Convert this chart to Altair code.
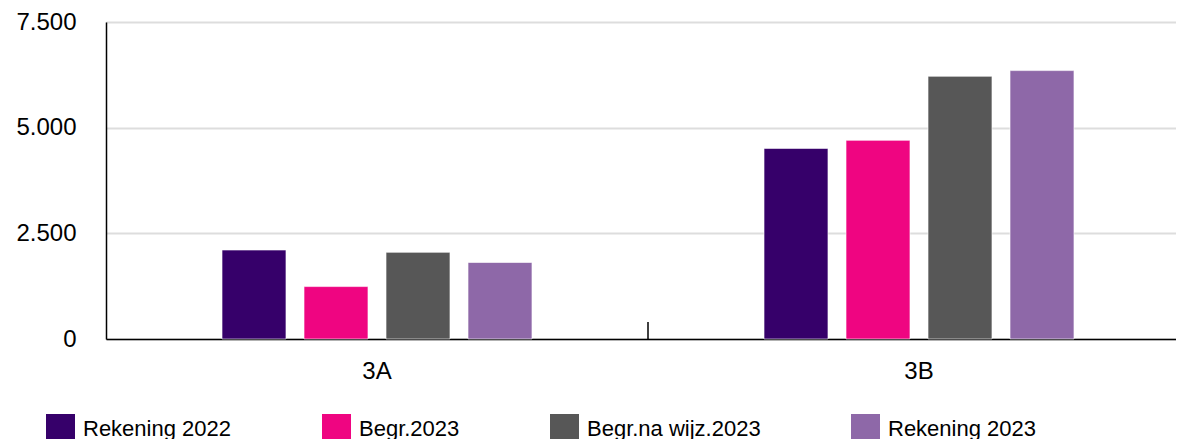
import altair as alt
import pandas as pd

categories = ["3A", "3B"]
series = ["Rekening 2022", "Begr.2023", "Begr.na wijz.2023", "Rekening 2023"]
colors = ["#36006A", "#EF0581", "#575757", "#8E68A8"]
values_3A = [2105, 1240, 2050, 1810]
values_3B = [4510, 4700, 6215, 6350]
y_ticks = [0, 2500, 5000, 7500]

rows = []
for s, v in zip(series, values_3A):
    rows.append({"cat": "3A", "serie": s, "val": v})
for s, v in zip(series, values_3B):
    rows.append({"cat": "3B", "serie": s, "val": v})
df = pd.DataFrame(rows)

tick_df = pd.DataFrame([{"cat": "3B", "y0": 0, "y1": 400}])

FONT = "Liberation Sans"

x_scale = alt.Scale(domain=categories, paddingInner=0, paddingOuter=0, range=[0, 1084])

bars = alt.Chart(df).mark_bar(stroke="#ffffff", strokeOpacity=0.6, strokeWidth=1).encode(
    x=alt.X("cat:N", scale=x_scale, sort=categories,
            axis=alt.Axis(title=None, labelAngle=0, ticks=False, domainColor="#000000",
                          domainWidth=1.5, labelFontSize=24, labelFont=FONT,
                          labelColor="#000000", labelPadding=20, grid=False)),
    xOffset=alt.XOffset("serie:N", sort=series,
                        scale=alt.Scale(domain=series, range=[107, 435],
                                        paddingInner=0.22, paddingOuter=0.11)),
    y=alt.Y("val:Q", scale=alt.Scale(domain=[0, 7500], nice=False),
            axis=alt.Axis(title=None, values=y_ticks, ticks=False, domainColor="#000000",
                          domainWidth=1.5, gridColor="#DDDDDD", gridWidth=2,
                          labelFontSize=24, labelFont=FONT, labelColor="#000000",
                          labelPadding=30,
                          labelExpr="replace(format(datum.value, ','), ',', '.')")),
    color=alt.Color("serie:N", sort=series,
                    scale=alt.Scale(domain=series, range=colors),
                    legend=alt.Legend(title=None, orient="none", legendX=-60, legendY=392,
                                      direction="horizontal", columns=4,
                                      symbolType="square", symbolSize=841,
                                      symbolStrokeWidth=0, symbolOpacity=1,
                                      labelFontSize=22, labelFont=FONT, labelColor="#000000",
                                      labelOffset=8, columnPadding=90, labelLimit=400)),
)

tick = alt.Chart(tick_df).mark_rule(color="#000000", strokeWidth=1.5).encode(
    x=alt.X("cat:N", bandPosition=0, scale=x_scale, sort=categories),
    y=alt.Y("y0:Q"),
    y2="y1:Q",
)

chart = alt.layer(bars, tick).properties(
    width=1070, height=317,
    autosize=alt.AutoSizeParams(type="none"),
    padding={"left": 98, "top": 14, "right": 0, "bottom": 100},
).configure_view(stroke=None).configure(background="#ffffff")

chart.save("out.html", embed_options={"renderer": "svg", "actions": False})
